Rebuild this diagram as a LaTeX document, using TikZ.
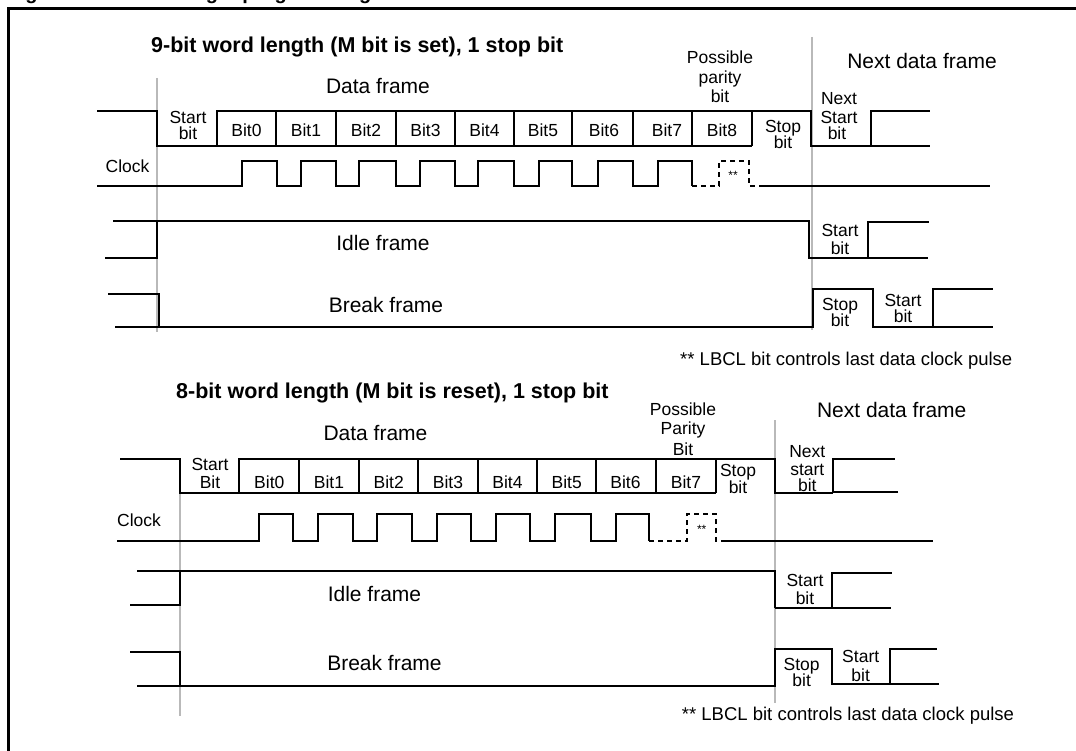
\documentclass[tikz,border=0pt]{standalone}
\usepackage{fontspec}
\setmainfont{Liberation Sans}
\definecolor{guidegray}{RGB}{185,185,185}
\tikzset{
  wave/.style={line width=2.1pt},
  thinwave/.style={line width=1.1pt},
  dashwave/.style={line width=1.6pt, dash pattern=on 5pt off 4pt},
  guide/.style={line width=1.2pt, draw=guidegray},
  lab/.style={inner sep=0pt, anchor=base, font=\fontsize{17.5}{18}\selectfont},
  big/.style={inner sep=0pt, anchor=base, font=\fontsize{21}{22}\selectfont},
  ttl/.style={inner sep=0pt, anchor=base west, font=\fontsize{21.5}{23}\selectfont\bfseries},
  note/.style={inner sep=0pt, anchor=base west, font=\fontsize{18.5}{20}\selectfont},
  star/.style={inner sep=0pt, anchor=base, font=\fontsize{12}{12}\selectfont},
}
\begin{document}
\begin{tikzpicture}[x=1pt,y=-1pt]
\useasboundingbox (0,0) rectangle (1076,751);
% figure title, cut by the top edge (only descenders visible)
\node[inner sep=0pt, anchor=base west, font=\fontsize{20}{22}\selectfont\bfseries] (figtitle) at (7.4,0) {Figure 279. Word length programming};
% frame
\draw[line width=2.5pt] (8.3,751) -- (8.3,8.3) -- (1076,8.3);

% ================= 9-bit section =================
\draw[guide] (157,78) -- (157,332);
\draw[guide] (812,37) -- (812,330);

\node[ttl] (t1) at (151,53) {9-bit word length (M bit is set), 1 stop bit};
\node[big] (df1) at (378,94) {Data frame};
\node[big] (ndf1) at (922,68.5) {Next data frame};
\node[lab] (pp1a) at (720,64) {Possible};
\node[lab] (pp1b) at (720,83.5) {parity};
\node[lab] (pp1c) at (720,103) {bit};

% data line
\draw[wave] (97,111) -- (157,111) -- (157,146) -- (752,146);
\draw[wave] (217,146) -- (217,111) -- (811,111) -- (811,146) -- (930,146);
\foreach \x in {276,336,396,455,514,572,633,692,752} \draw[wave] (\x,111) -- (\x,146);
\draw[wave] (871,146) -- (871,111) -- (930,111);

\node[lab] (sb1a) at (188,123.3) {Start};
\node[lab] (sb1b) at (188,140) {bit};
\node[lab] (b10) at (246.5,137) {Bit0};
\node[lab] (b11) at (306,137) {Bit1};
\node[lab] (b12) at (366,137) {Bit2};
\node[lab] (b13) at (425.5,137) {Bit3};
\node[lab] (b14) at (484.5,137) {Bit4};
\node[lab] (b15) at (543,137) {Bit5};
\node[lab] (b16) at (604,137) {Bit6};
\node[lab] (b17) at (667,137) {Bit7};
\node[lab] (b18) at (722,137) {Bit8};
\node[lab] (st1a) at (783,132.5) {Stop};
\node[lab] (st1b) at (783,148.5) {bit};
\node[lab] (ns1a) at (839,105) {Next};
\node[lab] (ns1b) at (839,123.3) {Start};
\node[lab] (ns1c) at (837,140) {bit};

% clock
\node[lab] (clk1) at (127.5,172.7) {Clock};
\draw[wave] (97,186) -- (242,186) -- (242,161) -- (277,161) -- (277,186) -- (301,186) -- (301,161) -- (336,161) -- (336,186) -- (359,186) -- (359,161) -- (396,161) -- (396,186) -- (420,186) -- (420,161) -- (455,161) -- (455,186) -- (478,186) -- (478,161) -- (514,161) -- (514,186) -- (539,186) -- (539,161) -- (572,161) -- (572,186) -- (598,186) -- (598,161) -- (633,161) -- (633,186) -- (658,186) -- (658,161) -- (692,161) -- (692,186);
\draw[dashwave] (692,186) -- (719,186) -- (719,161) -- (749,161) -- (749,186) -- (764,186);
\draw[wave] (764,186) -- (990,186);
\node[star] (ast1) at (733,180) {**};

% idle frame
\draw[wave] (105,258) -- (157,258) -- (157,221);
\draw[wave] (113,221) -- (809,221) -- (809,258) -- (928,258);
\draw[wave] (868,258) -- (868,222) -- (929,222);
\node[big] (idle1) at (383,251) {Idle frame};
\node[lab] (is1a) at (840,236.7) {Start};
\node[lab] (is1b) at (840,255) {bit};

% break frame
\draw[wave] (108,294) -- (159,294) -- (159,327);
\draw[wave] (115,327) -- (813,327) -- (813,289) -- (873,289) -- (873,327) -- (993,327);
\draw[wave] (933,327) -- (933,289) -- (993,289);
\node[big] (brk1) at (386,312.7) {Break frame};
\node[lab] (bs1a) at (840,310) {Stop};
\node[lab] (bs1b) at (840,326.7) {bit};
\node[lab] (bt1a) at (903,306) {Start};
\node[lab] (bt1b) at (903,323) {bit};

\node[note] (fn1) at (680,365) {** LBCL bit controls last data clock pulse};

% ================= 8-bit section =================
\draw[guide] (180,459) -- (180,716);
\draw[guide] (775,420) -- (775,703);

\node[ttl] (t2) at (176,398.3) {8-bit word length (M bit is reset), 1 stop bit};
\node[big] (df2) at (375.5,440) {Data frame};
\node[big] (ndf2) at (891.7,417.3) {Next data frame};
\node[lab] (pp2a) at (683,415.7) {Possible};
\node[lab] (pp2b) at (683,434.5) {Parity};
\node[lab] (pp2c) at (683,455) {Bit};

% data line
\draw[wave] (120,459) -- (180,459) -- (180,493) -- (716,493);
\draw[wave] (239,493) -- (239,459) -- (716,459);
\foreach \x in {299,359,418,478,537,596,656,716} \draw[wave] (\x,459) -- (\x,493);
\draw[thinwave] (716,459) -- (775,459) -- (775,493) -- (833,493);
\draw[wave] (898,492) -- (833,492) -- (833,459) -- (895,459);

\node[lab] (sb2a) at (210,470.7) {Start};
\node[lab] (sb2b) at (210,488) {Bit};
\node[lab] (b20) at (269.3,488.3) {Bit0};
\node[lab] (b21) at (329,488.3) {Bit1};
\node[lab] (b22) at (388.7,488.3) {Bit2};
\node[lab] (b23) at (448,488.3) {Bit3};
\node[lab] (b24) at (507.5,488.3) {Bit4};
\node[lab] (b25) at (566.7,488.3) {Bit5};
\node[lab] (b26) at (625.5,488.3) {Bit6};
\node[lab] (b27) at (686,488.3) {Bit7};
\node[lab] (st2a) at (738,476.7) {Stop};
\node[lab] (st2b) at (738,493.3) {bit};
\node[lab] (ns2a) at (807.3,457) {Next};
\node[lab] (ns2b) at (807.3,475) {start};
\node[lab] (ns2c) at (807.3,491) {bit};

% clock
\node[lab] (clk2) at (139,526) {Clock};
\draw[wave] (117,541) -- (259,541) -- (259,514) -- (293,514) -- (293,541) -- (318,541) -- (318,514) -- (353,514) -- (353,541) -- (377,541) -- (377,514) -- (412,514) -- (412,541) -- (437,541) -- (437,514) -- (471,514) -- (471,541) -- (496,541) -- (496,514) -- (530,514) -- (530,541) -- (555,541) -- (555,514) -- (591,514) -- (591,541) -- (616,541) -- (616,514) -- (649,514) -- (649,541);
\draw[dashwave] (649,541) -- (687,541) -- (687,514) -- (716,514) -- (716,541) -- (721,541);
\draw[wave] (721,541) -- (933,541);
\node[star] (ast2) at (701.7,533) {**};

% idle frame
\draw[wave] (130,605) -- (180,605) -- (180,571);
\draw[wave] (137,571) -- (775,571) -- (775,608);
\draw[thinwave] (775,608) -- (891,608);
\draw[wave] (832,608) -- (832,573) -- (892,573);
\node[big] (idle2) at (374.5,601.7) {Idle frame};
\node[lab] (is2a) at (805,586) {Start};
\node[lab] (is2b) at (805,604) {bit};

% break frame
\draw[wave] (130,652) -- (180,652) -- (180,686);
\draw[wave] (137,686) -- (775,686) -- (775,649) -- (832,649) -- (832,684) -- (939,684);
\draw[wave] (890,684) -- (890,649) -- (937,649);
\node[big] (brk2) at (384.5,670.7) {Break frame};
\node[lab] (bs2a) at (801.7,670) {Stop};
\node[lab] (bs2b) at (801.7,686.7) {bit};
\node[lab] (bt2a) at (860.7,662.7) {Start};
\node[lab] (bt2b) at (860.7,681.7) {bit};

\node[note] (fn2) at (681.7,720) {** LBCL bit controls last data clock pulse};
\end{tikzpicture}
\end{document}
